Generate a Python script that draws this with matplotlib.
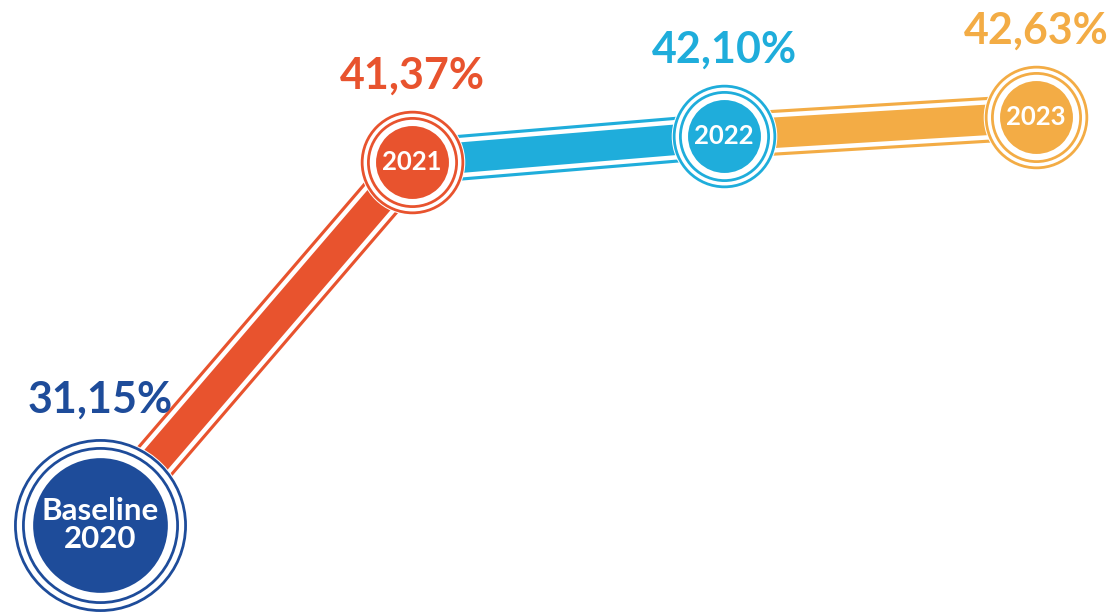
import matplotlib
matplotlib.use('Agg')
import matplotlib.pyplot as plt

# datos del grafico
years = ['Baseline\n2020', '2021', '2022', '2023']
values = [31.15, 41.37, 42.10, 42.63]
labels = ['31,15%', '41,37%', '42,10%', '42,63%']
colors = ['#1E4C9A', '#E8532E', '#1FADDB', '#F3AC45']

plt.rcParams['font.family'] = ['Lato', 'DejaVu Sans']

fig = plt.figure(figsize=(11.16, 6.12), dpi=100)
ax = fig.add_axes([0, 0, 1, 1])
ax.set_xlim(-0.3205, 3.2564)
ax.set_ylim(28.70, 45.92)
ax.axis('off')

x = list(range(len(values)))

# bandas entre puntos (linea gruesa + hueco blanco + relleno)
for i in range(1, len(values)):
    seg_x = [x[i - 1], x[i]]
    seg_y = [values[i - 1], values[i]]
    c = colors[i]
    ax.plot(seg_x, seg_y, color=c, lw=33, solid_capstyle='butt', zorder=1)
    ax.plot(seg_x, seg_y, color='white', lw=28.5, solid_capstyle='butt', zorder=2)
    ax.plot(seg_x, seg_y, color=c, lw=22, solid_capstyle='butt', zorder=3)

# circulos
for i in range(len(values)):
    c = colors[i]
    if i == 0:
        d_fill, d_in, d_out, d_bg, off, fs_in = 97, 111, 122.5, 126, 90, 22.5
    else:
        d_fill, d_in, d_out, d_bg, off, fs_in = 52.5, 63.5, 72.5, 76, 62, 18.5
    ax.plot(x[i], values[i], 'o', ms=d_bg, mfc='white', mec='none', zorder=4)
    ax.plot(x[i], values[i], 'o', ms=d_out, mfc='none', mec=c, mew=2.0, zorder=5)
    ax.plot(x[i], values[i], 'o', ms=d_in, mfc='none', mec=c, mew=2.0, zorder=5)
    ax.plot(x[i], values[i], 'o', ms=d_fill, mfc=c, mec='none', zorder=6)
    ax.text(x[i], values[i], years[i], color='white', fontsize=fs_in,
            fontweight='bold', ha='center', va='center', linespacing=1.0, zorder=7)
    ax.annotate(labels[i], (x[i], values[i]), xytext=(0, off),
                textcoords='offset points', ha='center', va='center',
                color=c, fontsize=31, fontweight='bold', zorder=7)

fig.savefig('out.png', dpi=100, facecolor='white')
